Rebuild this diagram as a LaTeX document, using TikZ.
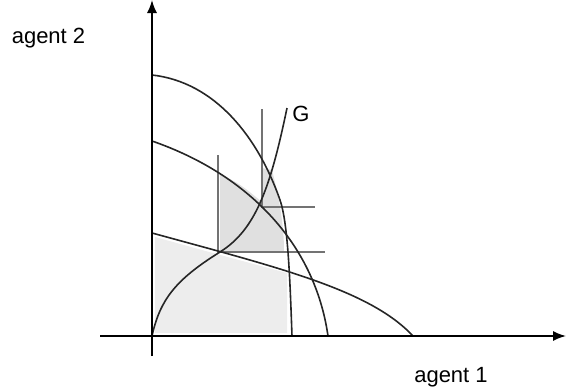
\documentclass[tikz,border=0pt]{standalone}
\usepackage{fontspec}
\setmainfont{Liberation Sans}
\usetikzlibrary{arrows.meta}

\begin{document}
\begin{tikzpicture}[x=1pt,y=-1pt,
		curve/.style={line width=1.6pt,black!85},
		guide/.style={line width=1.2pt,black!55},
		axis/.style={line width=1.6pt,-{Latex[length=13pt,width=10pt]}},
		lbl/.style={font=\fontsize{22}{26}\selectfont,inner sep=0pt}]
		\useasboundingbox (0,0) rectangle (566,391);
		
		% shaded sets
		\fill[black!7] (155,237) .. controls (220,255) .. (287,273) -- (287,333) -- (155,333) -- cycle;
		\fill[black!12] (220,252) -- (220,174) .. controls (240,184) .. (262,202)
			-- (262,168) -- (272,170) .. controls (281,205) and (284,230) .. (284,251) -- cycle;
		
		% guide lines
		\draw[guide] (218,155) -- (218,252) -- (325,252);
		\draw[guide] (262,109) -- (262,207) -- (315,207);
		
		% frontiers
		\draw[curve] (152,75) .. controls (215,82) and (258,137) .. (280,200)
			.. controls (288,223) and (290,280) .. (292,336);
		\draw[curve] (152,141) .. controls (250,175) and (315,245) .. (328,336);
		\draw[curve] (152,233) .. controls (280,268) and (370,290) .. (413,336);
		\draw[curve] (152,336) .. controls (160,300) and (175,280) .. (220,252)
			.. controls (255,230) and (270,190) .. (287,108);
		
		% axes
		\coordinate (xs) at (100,336);
		\coordinate (xe) at (566,336);
		\coordinate (ys) at (152,356);
		\coordinate (ye) at (152,0);
		\draw[axis] (xs) -- (xe);
		\draw[axis] (ys) -- (ye);
		
		\node[lbl] (ag2) at (48.5,38.5) {agent 2};
		\node[lbl] (ag1) at (451,377) {agent 1};
		\node[lbl] (gcurve) at (301,114) {G};
	\end{tikzpicture}
\end{document}
